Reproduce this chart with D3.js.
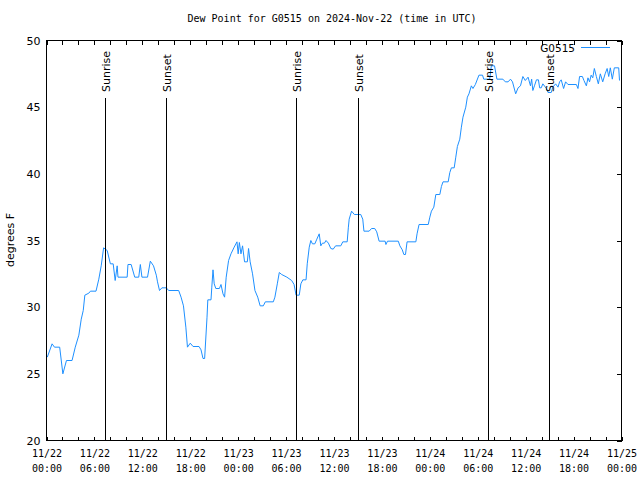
<!DOCTYPE html>
<html><head><meta charset="utf-8">
<script src="https://cdn.jsdelivr.net/npm/d3@7"></script>
<style>body{margin:0;background:#fff}svg{display:block}</style>
</head><body>
<script>
// hours after 2024-11-22 00:00 UTC
const hours = [0.1,0.7,1.0,1.65,2.05,2.5,3.2,3.6,4.05,4.35,4.6,4.8,5.3,5.5,6.2,6.55,6.85,7.15,7.6,8.0,8.35,8.6,8.85,8.95,10.1,10.2,10.6,11.05,11.55,11.75,11.95,12.65,13.0,13.4,13.75,13.9,14.15,14.45,15.0,15.3,16.55,16.85,17.15,17.45,17.65,18.0,18.35,19.1,19.35,19.6,19.8,20.1,20.2,20.6,20.7,20.85,21.0,21.2,21.65,21.85,22.1,22.3,22.5,22.8,23.1,23.5,23.85,24.0,24.15,24.35,24.55,24.8,25.15,25.3,25.5,25.8,26.1,26.45,26.75,27.15,27.4,28.4,28.6,28.9,29.15,29.45,30.1,30.7,31.0,31.25,31.65,31.85,32.1,32.5,32.65,32.9,33.1,33.3,33.6,33.85,34.15,34.35,34.55,34.8,35.0,35.3,35.6,35.9,36.2,36.85,37.1,37.65,37.8,37.9,38.2,38.55,39.35,39.6,39.75,40.4,40.7,41.1,41.35,41.65,42.4,42.5,42.7,44.05,44.25,44.55,44.75,44.95,45.15,46.25,46.4,46.65,47.8,48.0,48.2,48.5,48.75,49.25,49.45,49.65,50.3,50.5,50.7,51.05,51.25,51.45,51.75,51.95,52.15,52.5,52.7,52.9,53.2,53.4,53.7,54.15,54.6,54.75,55.5,55.7,56.1,56.4,57.15,57.45,57.8,58.1,58.35,58.75,59.05,59.35,59.65,59.95,60.3,60.6,60.75,60.9,61.1,61.35,61.6,61.75,61.95,62.15,62.6,62.8,63.2,63.4,63.75,64.05,64.25,64.45,64.75,65.0,65.3,66.35,66.55,66.75,67.1,67.3,67.6,67.8,68.0,68.2,68.4,68.6,68.85,69.1,69.35,69.65,69.95,70.2,70.4,70.6,70.85,71.1,71.65,71.75];
const dewPoint = [26.25,27.25,27.0,27.0,25.0,26.0,26.0,27.0,27.9,29.1,29.75,30.9,31.05,31.2,31.2,32.1,33.1,34.45,34.25,33.25,33.25,32.0,33.1,32.25,32.25,33.2,33.2,32.25,32.25,33.2,32.25,32.25,33.45,33.1,32.4,31.9,31.25,31.45,31.45,31.25,31.25,30.75,30.1,28.5,27.0,27.3,27.05,27.05,26.8,26.15,26.15,29.25,30.55,30.55,31.5,32.8,31.75,31.4,31.4,31.7,31.0,30.75,32.25,33.5,34.0,34.5,34.9,34.0,34.85,34.0,34.6,33.4,33.4,34.4,33.4,32.5,31.25,30.75,30.1,30.1,30.4,30.4,30.75,31.75,32.6,32.45,32.25,32.0,31.7,30.9,30.9,31.75,32.05,32.05,33.25,34.5,35.0,34.75,34.75,35.1,35.5,34.6,34.8,34.8,35.0,34.8,34.4,34.35,34.6,34.6,34.9,34.9,36.0,36.6,37.2,36.95,36.95,36.6,35.7,35.7,35.9,35.9,35.65,34.95,34.95,34.7,34.95,34.95,34.6,34.3,33.95,33.95,34.9,34.9,35.5,36.2,36.2,36.75,37.2,37.5,38.45,38.45,39.05,39.4,39.4,40.1,40.45,40.45,41.25,42.05,42.6,43.5,44.25,45.0,45.75,46.0,46.6,46.4,46.7,47.4,47.4,47.1,47.1,48.1,48.1,47.1,47.1,46.9,46.9,47.1,46.9,46.0,46.45,46.6,47.3,47.0,47.25,46.6,47.1,46.25,46.6,47.05,47.05,46.45,46.45,46.75,46.4,46.1,46.1,46.5,46.75,46.5,46.9,47.05,46.4,46.9,46.7,46.7,46.4,47.3,47.3,47.0,46.6,47.2,46.9,47.4,47.2,47.9,47.3,46.75,47.5,46.9,47.5,47.9,47.3,47.95,47.1,47.95,47.95,47.0];
const sunEvents = [["Sunrise",7.375],["Sunset",15.0],["Sunrise",31.25],["Sunset",39.0],["Sunrise",55.25],["Sunset",62.875]];
const yTicks = [20,25,30,35,40,45,50];
const xLabelHours = [0,6,12,18,24,30,36,42,48,54,60,66,72];
const title = "Dew Point for G0515 on 2024-Nov-22 (time in UTC)";
const seriesName = "G0515";
const yLabel = "degrees F";

const t0 = Date.UTC(2024,10,22);
const toDate = h => new Date(t0 + h*3600000);

const W=640,H=480, L=46.5, R=621.5, T=40.5, B=440.5;
const svg = d3.select("body").append("svg").attr("width",W).attr("height",H);
const x = d3.scaleUtc().domain([toDate(0),toDate(72)]).range([L,R]);
const y = d3.scaleLinear().domain([20,50]).range([B,T]);
const mono = "'DejaVu Sans Mono', monospace";
const sans = "'DejaVu Sans', sans-serif";
const blue = "#1E90FF";

svg.append("text").attr("x",332).attr("y",22).attr("text-anchor","middle")
  .style("font-family",mono).style("font-size","10px").text(title);

// line
const data = hours.map((h,i)=>[toDate(h),dewPoint[i]]);
svg.append("path").datum(data).attr("fill","none").attr("stroke",blue).attr("stroke-width",1)
  .attr("d",d3.line().x(d=>x(d[0])).y(d=>y(d[1])));

// sun lines
const sg = svg.append("g");
sunEvents.forEach(([name,h])=>{
  const xx = Math.round(x(toDate(h)))+0.5;
  sg.append("line").attr("x1",xx).attr("x2",xx).attr("y1",98).attr("y2",B)
    .attr("stroke","#000").attr("stroke-width",1).attr("shape-rendering","crispEdges");
  sg.append("text").attr("transform",`translate(${xx+4},92) rotate(-90)`)
    .style("font-family",sans).style("font-size","11px").text(name);
});

// minor ticks every 2 hours (bottom & top)
const minor = d3.range(0,73,2).map(toDate);
svg.append("g").attr("transform",`translate(0,${B})`)
  .call(d3.axisBottom(x).tickValues(minor).tickSize(-4).tickFormat(""))
  .call(g=>{g.select(".domain").remove();g.selectAll("line").attr("shape-rendering","crispEdges");});
svg.append("g").attr("transform",`translate(0,${T})`)
  .call(d3.axisTop(x).tickValues(minor).tickSize(-4).tickFormat(""))
  .call(g=>{g.select(".domain").remove();g.selectAll("line").attr("shape-rendering","crispEdges");});

// x labels
const fmtD = d3.utcFormat("%m/%d"), fmtT = d3.utcFormat("%H:%M");
const xa = svg.append("g").attr("transform",`translate(0,${B})`)
  .call(d3.axisBottom(x).tickValues(xLabelHours.map(toDate)).tickSize(0).tickFormat(""));
xa.select(".domain").remove();
xa.selectAll(".tick").each(function(d){
  const t = d3.select(this).append("text").attr("fill","#000").attr("text-anchor","middle")
    .style("font-family",mono).style("font-size","10px");
  t.append("tspan").attr("x",0).attr("y",16).text(fmtD(d));
  t.append("tspan").attr("x",0).attr("y",31).text(fmtT(d));
});

// y labels and right ticks
const ya = svg.append("g").attr("transform",`translate(${L},0)`)
  .call(d3.axisLeft(y).tickValues(yTicks).tickSize(0).tickPadding(6));
ya.select(".domain").remove();
ya.selectAll("text").style("font-family",sans).style("font-size","11px").attr("fill","#000");
svg.append("g").attr("transform",`translate(${R},0)`)
  .call(d3.axisRight(y).tickValues(yTicks).tickSize(-5).tickFormat(""))
  .call(g=>{g.select(".domain").remove();g.selectAll("line").attr("shape-rendering","crispEdges");});

svg.append("text").attr("transform","translate(14,240) rotate(-90)").attr("text-anchor","middle")
  .style("font-family",sans).style("font-size","11px").text(yLabel);

// frame
svg.append("rect").attr("x",L).attr("y",T).attr("width",R-L).attr("height",B-T)
  .attr("fill","none").attr("stroke","#000").attr("shape-rendering","crispEdges");

// legend
svg.append("text").attr("x",575).attr("y",52).attr("text-anchor","end")
  .style("font-family",sans).style("font-size","10.5px").text(seriesName);
svg.append("line").attr("x1",581).attr("x2",610).attr("y1",47.5).attr("y2",47.5)
  .attr("stroke",blue).attr("stroke-width",1).attr("shape-rendering","crispEdges");
</script>
</body></html>
